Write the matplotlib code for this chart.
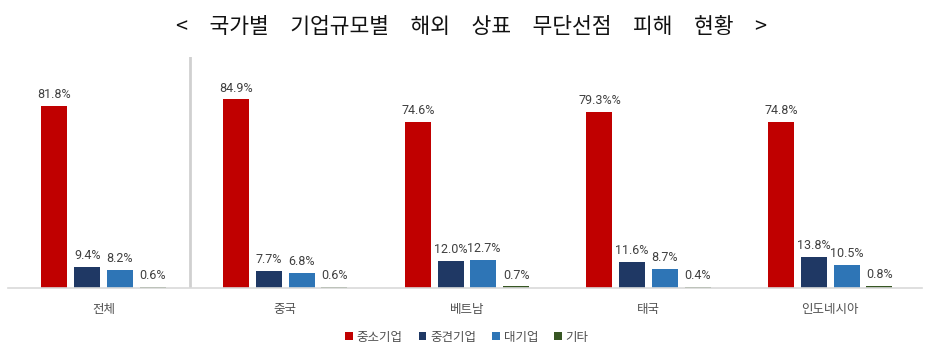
import numpy as np
import matplotlib
matplotlib.use("Agg")
from matplotlib import pyplot as plt
from matplotlib.patches import Patch

plt.rcParams['font.family'] = ['Noto Sans CJK KR', 'DejaVu Sans']

# data
countries = ['전체', '중국', '베트남', '태국', '인도네시아']
series = ['중소기업', '중견기업', '대기업', '기타']
sme = [81.8, 84.9, 74.6, 79.3, 74.8]
mid = [9.4, 7.7, 12.0, 11.6, 13.8]
large = [8.2, 6.8, 12.7, 8.7, 10.5]
other = [0.6, 0.6, 0.7, 0.4, 0.8]
# labels as printed in the source (one has a doubled percent sign)
sme_labels = ['81.8%', '84.9%', '74.6%', '79.3%%', '74.8%']

colors = ['#C00000', '#1F3864', '#2E75B6', '#375623']
values = [sme, mid, large, other]

W, H = 948, 360
fig = plt.figure(figsize=(W / 100, H / 100), dpi=100)
# axes: left 8px, right 922px, top 57px, bottom 288px
ax = fig.add_axes([8 / W, 1 - 288 / H, (922 - 8) / W, (288 - 57) / H])

centers = np.arange(len(countries), dtype=float)
step = 0.1805
bw = 0.143

for i, (vals, c) in enumerate(zip(values, colors)):
    xs = centers + (i - 1.5) * step
    ax.bar(xs, vals, width=bw, color=c, zorder=2)
    for j, (x, v) in enumerate(zip(xs, vals)):
        txt = sme_labels[j] if i == 0 else '%.1f%%' % v
        ax.text(x, v + 2.2, txt, ha='center', va='bottom', fontsize=9,
                color='#404040', family=['Roboto', 'DejaVu Sans'])

ax.set_xlim(-0.526, 4.505)
ax.set_ylim(0, 104)
ax.axvline(0.476, color='#d0d0d0', lw=2, zorder=1)

for s in ['top', 'right', 'left']:
    ax.spines[s].set_visible(False)
ax.spines['bottom'].set_color('#d9d9d9')
ax.spines['bottom'].set_linewidth(1.2)
ax.set_yticks([])
ax.set_xticks(centers)
ax.set_xticklabels(countries, fontsize=9, color='#505050')
ax.tick_params(axis='x', length=0, pad=11)

handles = [Patch(facecolor=c, edgecolor='none') for c in colors]
fig.legend(handles, series, loc='center', bbox_to_anchor=(467 / W, 1 - 337 / H),
           ncol=4, frameon=False, fontsize=9, handlelength=0.6, handleheight=0.6,
           handletextpad=0.3, columnspacing=1.3, labelcolor='#505050')

fig.text(472 / W, 1 - 27 / H, '<\u3000국가별\u3000기업규모별\u3000해외\u3000상표\u3000무단선점\u3000피해\u3000현황\u3000>',
         ha='center', va='center', fontsize=15.5, color='#111111')

fig.savefig('out.png', dpi=100)
